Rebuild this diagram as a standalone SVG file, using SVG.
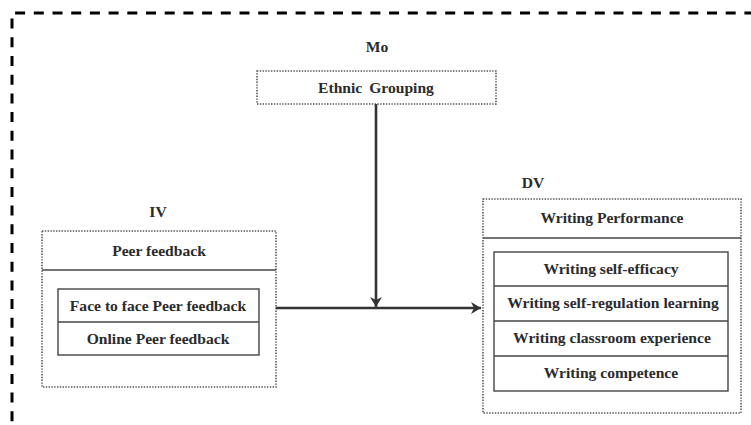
<svg xmlns="http://www.w3.org/2000/svg" width="751" height="425" viewBox="0 0 751 425">
<defs>
<style>
.t{font-family:"Liberation Serif","Times New Roman",serif;font-weight:bold;font-size:15.6px;fill:#2b2b2b;text-anchor:middle}
.dot{fill:none;stroke:#555;stroke-width:1.6;stroke-dasharray:1.4 1.4}
.sol{fill:none;stroke:#444;stroke-width:1.4}
.con{fill:none;stroke:#333;stroke-width:2.6}
</style>
<marker id="ah" markerWidth="14" markerHeight="14" refX="11" refY="7" orient="auto" markerUnits="userSpaceOnUse">
<path d="M1,1 L11,7 L1,13 L4,7 Z" fill="#333"/>
</marker>
</defs>
<rect width="751" height="425" fill="#fff"/>
<g id="frame">
<path d="M12,440 L12,13 L760,13" fill="none" stroke="#000" stroke-width="3" stroke-dasharray="10 8.7"/>
</g>
<g id="moderator">
<text class="t" x="377" y="52">Mo</text>
<rect class="dot" x="257" y="71" width="239" height="33"/>
<text class="t" x="376" y="93" word-spacing="3">Ethnic Grouping</text>
</g>
<g id="iv">
<text class="t" x="158" y="217">IV</text>
<rect class="dot" x="42" y="231" width="234" height="156"/>
<line class="sol" x1="42" y1="270" x2="276" y2="270"/>
<text class="t" x="159" y="256">Peer feedback</text>
<rect class="sol" x="58" y="289" width="201" height="66"/>
<line class="sol" x1="58" y1="322" x2="259" y2="322"/>
<text class="t" x="158" y="311">Face to face Peer feedback</text>
<text class="t" x="158" y="344">Online Peer feedback</text>
</g>
<g id="dv">
<text class="t" x="533" y="188">DV</text>
<rect class="dot" x="483" y="199" width="258" height="214"/>
<line class="sol" x1="483" y1="238" x2="741" y2="238"/>
<text class="t" x="612" y="223">Writing Performance</text>
<rect class="sol" x="494" y="252" width="234" height="139"/>
<line class="sol" x1="494" y1="286" x2="728" y2="286"/>
<line class="sol" x1="494" y1="321" x2="728" y2="321"/>
<line class="sol" x1="494" y1="356" x2="728" y2="356"/>
<text class="t" x="611" y="274">Writing self-efficacy</text>
<text class="t" x="613" y="308">Writing self-regulation learning</text>
<text class="t" x="612" y="343">Writing classroom experience</text>
<text class="t" x="611" y="378">Writing competence</text>
</g>
<g id="connectors">
<line class="con" x1="276" y1="308" x2="481" y2="308" marker-end="url(#ah)"/>
<line class="con" x1="376" y1="104" x2="376" y2="307" marker-end="url(#ah)"/>
</g>
</svg>
